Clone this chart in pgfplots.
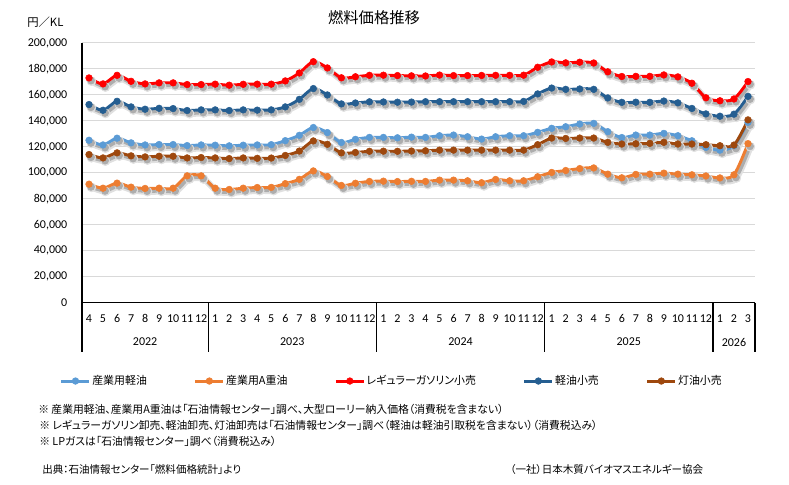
\documentclass[border=0pt]{standalone}
\usepackage{fontspec}
\usepackage{pgfplots}
\usepackage{pgfplotstable}
\pgfplotsset{compat=1.18}
\setmainfont{Carlito}
\newfontfamily\jp[RawFeature=+palt]{Noto Sans CJK JP}

\definecolor{kdcol}{HTML}{5B9BD5}
\definecolor{hacol}{HTML}{ED7D31}
\definecolor{gascol}{HTML}{FF0000}
\definecolor{drcol}{HTML}{255E91}
\definecolor{kecol}{HTML}{9E480E}
\definecolor{gridgray}{HTML}{D9D9D9}

% monthly prices (yen/kL), i = 0 is April 2022
% kd: industrial diesel, ha: industrial A heavy oil, gas: regular gasoline retail,
% dr: diesel retail, ke: kerosene retail
\pgfplotstableread{
i  kd     ha     gas    dr     ke
0  125100 91300  173100 152600 114100
1  121500 88200  168500 148200 111500
2  126700 92100  175100 155100 115400
3  123100 89000  170500 150800 113100
4  121500 88000  168500 149000 112300
5  121800 88200  169300 149700 112800
6  121800 88200  169300 149500 112800
7  121000 97700  168000 148000 111500
8  121500 97700  168000 148500 111800
9  121300 88200  168300 148500 111500
10 120800 87200  167500 148000 111000
11 121300 88200  168200 148500 111500
12 121500 88700  168300 148300 111200
13 121700 88800  168300 148500 111400
14 124800 91700  170800 150800 113400
15 128900 95000  176900 156600 116800
16 134900 101500 185600 164900 124600
17 131000 97200  180800 160000 122000
18 123400 90300  173200 153100 115400
19 125800 92000  174000 153800 115700
20 127300 93400  175100 154700 116600
21 127300 93600  175200 154600 116700
22 127000 93300  174900 154400 116600
23 127500 93500  174700 154500 116800
24 127300 93400  174600 154800 117000
25 128600 94400  175300 154800 117500
26 129100 94400  174900 154800 117500
27 127800 93900  174900 154800 117500
28 126000 92400  175000 154800 117500
29 127800 94900  175100 154800 117500
30 128600 93900  175100 154800 117500
31 128600 93900  175200 155000 117500
32 131200 97000  181300 160800 121700
33 134300 100300 185400 165300 126800
34 135500 101800 184700 164300 126500
35 137600 103300 185200 164600 126800
36 138100 103800 184600 164300 126800
37 131700 99000  177800 157700 123500
38 127200 96200  174200 154300 122200
39 129100 98800  174300 154400 122400
40 129100 99000  174300 154300 122700
41 130400 99800  175400 155300 123500
42 128600 99000  173900 153900 122200
43 124700 98500  169000 149600 122200
44 119600 97600  157800 145400 121700
45 117500 96100  155500 143600 120900
46 120900 98500  156900 145200 121400
47 138900 122500 170300 158900 140800
}\prices

\pgfplotsset{
  priceline/.style={line width=2.2pt, smooth, tension=0.5, mark=*,
    mark size=2.5pt, mark options={solid, line width=0.4pt}},
  shadowsoft/.style={forget plot, draw=black!12, line width=4.8pt,
    smooth, tension=0.5, mark=*, mark size=3.4pt,
    mark options={line width=0.4pt, draw=black!12, fill=black!12},
    xshift=1.8pt, yshift=-2.4pt},
  shadowcore/.style={forget plot, draw=black!32, line width=2.6pt,
    smooth, tension=0.5, mark=*, mark size=2.7pt,
    mark options={line width=0.4pt, draw=black!32, fill=black!32},
    xshift=1.5pt, yshift=-2pt},
}

\begin{document}
\begin{tikzpicture}
\path[use as bounding box] (0pt,0pt) rectangle (591.75pt,363.75pt);

\begin{axis}[
  at={(61.5pt,136.7pt)}, anchor=south west,
  scale only axis, width=504.75pt, height=194.8pt,
  xmin=-0.5, xmax=47.5, ymin=0, ymax=200000,
  clip=false,
  axis x line*=bottom, axis y line*=left,
  axis line style={black, line width=0.9pt},
  separate axis lines,
  major tick length=0pt,
  xtick={0,...,47},
  xticklabels={4,5,6,7,8,9,10,11,12,1,2,3,4,5,6,7,8,9,10,11,12,1,2,3,4,5,6,7,8,9,10,11,12,1,2,3,4,5,6,7,8,9,10,11,12,1,2,3},
  ytick={0,20000,...,200000},
  scaled y ticks=false,
  ymajorgrids,
  grid style={gridgray, line width=0.75pt},
  ticklabel style={font=\fontsize{9}{10}\selectfont},
  xticklabel style={yshift=-5.5pt},
  yticklabel style={xshift=-7.5pt, /pgf/number format/.cd, fixed, precision=0,
    1000 sep={,}, assume math mode=true},
  legend columns=5,
  legend cell align=left,
  legend style={at={(-0.039,-0.3015)}, anchor=west, draw=none, fill=none,
    font=\jp\fontsize{8.2}{10}\selectfont,
    nodes={inner sep=1pt},
    /tikz/every even column/.append style={column sep=34.2pt}},
  legend image code/.code={
    \draw[mark repeat=2, mark phase=2, #1]
      plot coordinates {(0pt,0pt) (10.5pt,0pt) (21pt,0pt)};},
]

% drop shadows under every series
\addplot[shadowsoft] table[x=i, y=kd] {\prices};
\addplot[shadowsoft] table[x=i, y=ha] {\prices};
\addplot[shadowsoft] table[x=i, y=gas] {\prices};
\addplot[shadowsoft] table[x=i, y=dr] {\prices};
\addplot[shadowsoft] table[x=i, y=ke] {\prices};
\addplot[shadowcore] table[x=i, y=kd] {\prices};
\addplot[shadowcore] table[x=i, y=ha] {\prices};
\addplot[shadowcore] table[x=i, y=gas] {\prices};
\addplot[shadowcore] table[x=i, y=dr] {\prices};
\addplot[shadowcore] table[x=i, y=ke] {\prices};

% the five price series
\addplot[priceline, color=kdcol] table[x=i, y=kd] {\prices};
\addlegendentry{産業用軽油}
\addplot[priceline, color=hacol] table[x=i, y=ha] {\prices};
\addlegendentry{産業用A重油}
\addplot[priceline, color=gascol] table[x=i, y=gas] {\prices};
\addlegendentry{レギュラーガソリン小売}
\addplot[priceline, color=drcol] table[x=i, y=dr] {\prices};
\addlegendentry{軽油小売}
\addplot[priceline, color=kecol] table[x=i, y=ke] {\prices};
\addlegendentry{灯油小売}

% year dividers and year labels of the category axis
\draw[black, line width=0.9pt] (axis cs:-0.5,0) -- ++(0pt,-37pt);
\draw[black, line width=0.9pt] (axis cs:8.5,0) -- ++(0pt,-37pt);
\draw[black, line width=0.9pt] (axis cs:20.5,0) -- ++(0pt,-37pt);
\draw[black, line width=0.9pt] (axis cs:32.5,0) -- ++(0pt,-37pt);
\draw[black, line width=0.9pt] (axis cs:44.5,0) -- ++(0pt,-37pt);
\draw[black, line width=0.9pt] (axis cs:47.5,0) -- ++(0pt,-37pt);
\node[font=\fontsize{9}{10}\selectfont, yshift=-29.5pt] at (axis cs:4,0) {2022};
\node[font=\fontsize{9}{10}\selectfont, yshift=-29.5pt] at (axis cs:14.5,0) {2023};
\node[font=\fontsize{9}{10}\selectfont, yshift=-29.5pt] at (axis cs:26.5,0) {2024};
\node[font=\fontsize{9}{10}\selectfont, yshift=-29.5pt] at (axis cs:38.5,0) {2025};
\node[font=\fontsize{9}{10}\selectfont, yshift=-29.5pt] at (axis cs:46,0) {2026};
\end{axis}

\node[font=\jp\fontsize{11.5}{13}\selectfont] at (280.5pt,350.25pt) {燃料価格推移};
\node[anchor=west, inner sep=0pt, font=\jp\fontsize{8.5}{10}\selectfont] at (20.25pt,347.25pt) {円／KL};

\node[anchor=west, inner sep=0pt, font=\jp\fontsize{8.1}{9}\selectfont] at (28.5pt,57pt)
  {※ 産業用軽油、産業用A重油は「石油情報センター」調べ、大型ローリー納入価格（消費税を含まない）};
\node[anchor=west, inner sep=0pt, font=\jp\fontsize{8.1}{9}\selectfont] at (29.25pt,45pt)
  {※ レギュラーガソリン卸売、軽油卸売、灯油卸売は「石油情報センター」調べ（軽油は軽油引取税を含まない）（消費税込み）};
\node[anchor=west, inner sep=0pt, font=\jp\fontsize{8.1}{9}\selectfont] at (29.25pt,33pt)
  {※ LPガスは「石油情報センター」調べ（消費税込み）};
\node[anchor=west, inner sep=0pt, font=\jp\fontsize{7.9}{9}\selectfont] at (31.5pt,12pt)
  {出典：石油情報センター「燃料価格統計」より};
\node[anchor=west, inner sep=0pt, font=\jp\fontsize{7.9}{9}\selectfont] at (382.5pt,12pt)
  {（一社）日本木質バイオマスエネルギー協会};
\end{tikzpicture}
\end{document}
